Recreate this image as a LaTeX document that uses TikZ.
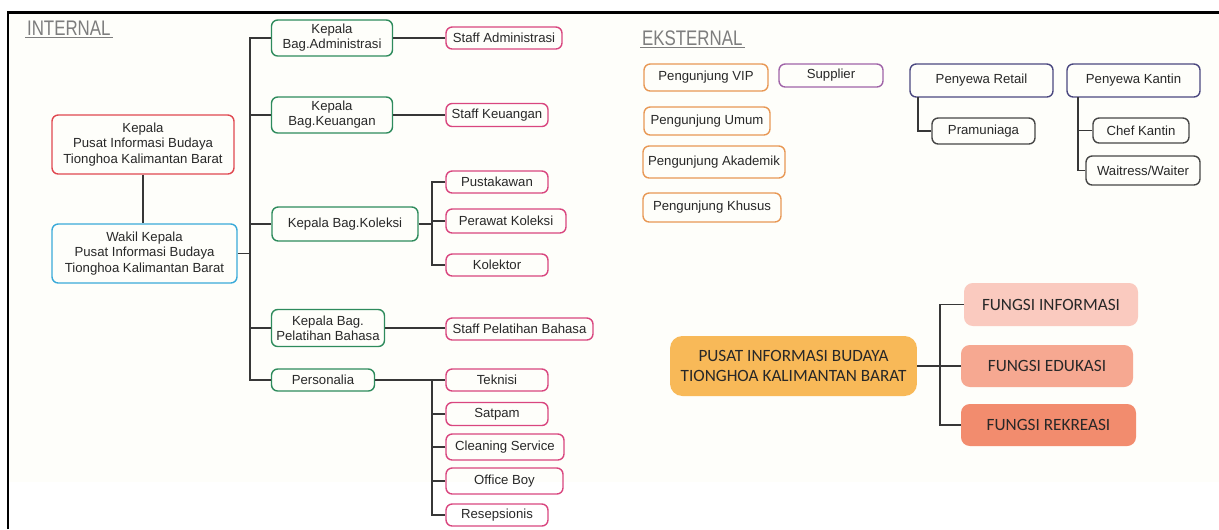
\documentclass[tikz,border=0pt]{standalone}
\usepackage{fontspec}
\setmainfont{Liberation Sans}
\newfontfamily\funcfont{Carlito}
\newfontfamily\titlefont[FakeStretch=0.8]{Liberation Sans}
\usetikzlibrary{positioning}
\definecolor{inkgray}{RGB}{40, 40, 40}
\definecolor{linegray}{RGB}{55, 55, 55}
\definecolor{titlegray}{RGB}{125, 125, 125}
\definecolor{paper}{RGB}{254, 254, 250}
\definecolor{headred}{RGB}{224, 72, 80}
\definecolor{deputyblue}{RGB}{58, 170, 217}
\definecolor{divgreen}{RGB}{46, 139, 92}
\definecolor{staffpink}{RGB}{217, 70, 127}
\definecolor{visitorange}{RGB}{232, 152, 85}
\definecolor{supplierpurple}{RGB}{160, 100, 168}
\definecolor{tenantnavy}{RGB}{75, 72, 128}
\definecolor{crewgray}{RGB}{70, 70, 70}
\definecolor{centergold}{RGB}{248, 185, 88}
\definecolor{funcone}{RGB}{250, 202, 191}
\definecolor{functwo}{RGB}{246, 168, 145}
\definecolor{functhree}{RGB}{242, 140, 110}

\begin{document}
\begin{tikzpicture}[
    x=0.02cm, y=-0.02cm,
    box/.style={
      rectangle,
      rounded corners=3.5pt,
      line width=0.8pt,
      inner sep=1pt,
      align=center,
      text=inkgray,
      font=\fontsize{7.5}{8.6}\selectfont
    },
    headbox/.style={box, draw=headred, minimum width=3.64cm, minimum height=1.18cm},
    deputybox/.style={box, draw=deputyblue, minimum width=3.70cm, minimum height=1.18cm},
    divbox/.style={box, draw=divgreen},
    staffbox/.style={box, draw=staffpink, minimum width=2.04cm, minimum height=0.44cm},
    visitbox/.style={box, draw=visitorange},
    tenantbox/.style={box, draw=tenantnavy, minimum height=0.66cm},
    crewbox/.style={box, draw=crewgray},
    funcbox/.style={
      rectangle,
      rounded corners=5pt,
      inner sep=1pt,
      align=center,
      text=inkgray,
      font=\funcfont\fontsize{9.8}{11}\selectfont
    },
    title/.style={font=\titlefont\fontsize{12}{13}\selectfont, text=titlegray, inner sep=1pt, anchor=base west},
    link/.style={draw=linegray, line width=0.85pt}
  ]
    \useasboundingbox (0,0) rectangle (1219,529);
    \fill[paper] (9,13) rectangle (1219,482);
    \draw[line width=1.7pt] (8,529) -- (8,12) -- (1219,12);

    % internal
    \node[title] (internal) at (25,35) {INTERNAL};
    \draw[titlegray, line width=0.6pt] (internal.south west) -- (internal.south east);

    \node[headbox] (kepala) at (143,144.5) {Kepala\\Pusat Informasi Budaya\\Tionghoa Kalimantan Barat};
    \node[deputybox] (wakil) at (144.5,253.5) {Wakil Kepala\\Pusat Informasi Budaya\\Tionghoa Kalimantan Barat};

    \node[divbox, minimum width=2.42cm, minimum height=0.72cm] (admin) at (332,38) {Kepala\\Bag.Administrasi};
    \node[divbox, minimum width=2.42cm, minimum height=0.72cm] (keuangan) at (332,115) {Kepala\\Bag.Keuangan};
    \node[divbox, minimum width=2.92cm, minimum height=0.68cm] (koleksi) at (345,224) {Kepala Bag.Koleksi};
    \node[divbox, minimum width=2.26cm, minimum height=0.74cm] (pelatihan) at (328,328) {Kepala Bag.\\Pelatihan Bahasa};
    \node[divbox, minimum width=2.06cm, minimum height=0.44cm] (personalia) at (323,380) {Personalia};

    \node[staffbox, minimum width=2.32cm] (staffadmin) at (504,38) {Staff Administrasi};
    \node[staffbox, minimum height=0.46cm] (staffkeu) at (497,115) {Staff Keuangan};
    \node[staffbox] (pustakawan) at (497,182) {Pustakawan};
    \node[staffbox, minimum width=2.40cm, minimum height=0.48cm] (perawat) at (506,221) {Perawat Koleksi};
    \node[staffbox] (kolektor) at (497,265) {Kolektor};
    \node[staffbox, minimum width=2.94cm] (staffbahasa) at (519.5,329) {Staff Pelatihan Bahasa};
    \node[staffbox] (teknisi) at (497,380) {Teknisi};
    \node[staffbox, minimum height=0.46cm] (satpam) at (497,414) {Satpam};
    \node[staffbox, minimum width=2.36cm, minimum height=0.52cm] (cleaning) at (505,447) {Cleaning Service};
    \node[staffbox, minimum width=2.34cm, minimum height=0.52cm] (officeboy) at (504.5,481) {Office Boy};
    \node[staffbox] (resepsionis) at (497,515) {Resepsionis};

    \coordinate (trunk) at (250,38);
    \coordinate (kolfork) at (432,224);
    \coordinate (perfork) at (432,380);

    \draw[link] (kepala.south) -- (kepala.south |- wakil.north);
    \draw[link] (personalia.west) -| (trunk) -- (admin.west);
    \draw[link] (wakil.east) -- (wakil.east -| trunk);
    \draw[link] (keuangan.west) -- (keuangan.west -| trunk);
    \draw[link] (koleksi.west) -- (koleksi.west -| trunk);
    \draw[link] (pelatihan.west) -- (pelatihan.west -| trunk);

    \draw[link] (admin.east) -- (staffadmin.west);
    \draw[link] (keuangan.east) -- (staffkeu.west);
    \draw[link] (pelatihan.east) -- (pelatihan.east -| staffbahasa.west);
    \draw[link] (koleksi.east) -- (kolfork);
    \draw[link] (pustakawan.west) -| (kolfork) |- (kolektor.west);
    \draw[link] (perawat.west) -- (perawat.west -| kolfork);
    \draw[link] (personalia.east) -- (teknisi.west);
    \draw[link] (perfork) |- (resepsionis.west);
    \draw[link] (satpam.west) -- (satpam.west -| perfork);
    \draw[link] (cleaning.west) -- (cleaning.west -| perfork);
    \draw[link] (officeboy.west) -- (officeboy.west -| perfork);

    % external
    \node[title] (eksternal) at (640,45) {EKSTERNAL};
    \draw[titlegray, line width=0.6pt] (eksternal.south west) -- (eksternal.south east);

    \node[visitbox, minimum width=2.48cm, minimum height=0.54cm] (vip) at (706,77.5) {Pengunjung VIP};
    \node[visitbox, minimum width=2.52cm, minimum height=0.56cm] (umum) at (707,121) {Pengunjung Umum};
    \node[visitbox, minimum width=2.84cm, minimum height=0.64cm] (akademik) at (714,162) {Pengunjung Akademik};
    \node[visitbox, minimum width=2.76cm, minimum height=0.58cm] (khusus) at (712,207.5) {Pengunjung Khusus};
    \node[box, draw=supplierpurple, minimum width=2.08cm, minimum height=0.46cm] (supplier) at (831,75.5) {Supplier};

    \node[tenantbox, minimum width=2.86cm] (retail) at (981.5,80.5) {Penyewa Retail};
    \node[tenantbox, minimum width=2.66cm] (kantin) at (1133.5,80.5) {Penyewa Kantin};
    \node[crewbox, minimum width=2.06cm, minimum height=0.52cm] (pramuniaga) at (983.5,131) {Pramuniaga};
    \node[crewbox, minimum width=1.92cm, minimum height=0.50cm] (chef) at (1141,130.5) {Chef Kantin};
    \node[crewbox, minimum width=2.28cm, minimum height=0.58cm] (waitress) at (1143,170.5) {Waitress/Waiter};

    \coordinate (retailstem) at (918,97);
    \coordinate (kantinstem) at (1078,97);
    \draw[link] (pramuniaga.west) -| (retailstem);
    \draw[link] (waitress.west) -| (kantinstem);
    \draw[link] (chef.west) -- (chef.west -| kantinstem);

    % fungsi
    \node[funcbox, fill=centergold, minimum width=4.94cm, minimum height=1.20cm, rounded corners=7pt] (pusat) at (793.5,366) {PUSAT INFORMASI BUDAYA\\TIONGHOA KALIMANTAN BARAT};
    \node[funcbox, fill=funcone, minimum width=3.48cm, minimum height=0.86cm] (informasi) at (1051,304.5) {FUNGSI INFORMASI};
    \node[funcbox, fill=functwo, minimum width=3.44cm, minimum height=0.84cm] (edukasi) at (1047,366) {FUNGSI EDUKASI};
    \node[funcbox, fill=functhree, minimum width=3.50cm, minimum height=0.84cm] (rekreasi) at (1048.5,425) {FUNGSI REKREASI};

    \coordinate (funcfork) at (940,366);
    \draw[link] (pusat.east) -- (edukasi.west);
    \draw[link] (informasi.west) -| (funcfork) |- (rekreasi.west);
  \end{tikzpicture}
\end{document}
